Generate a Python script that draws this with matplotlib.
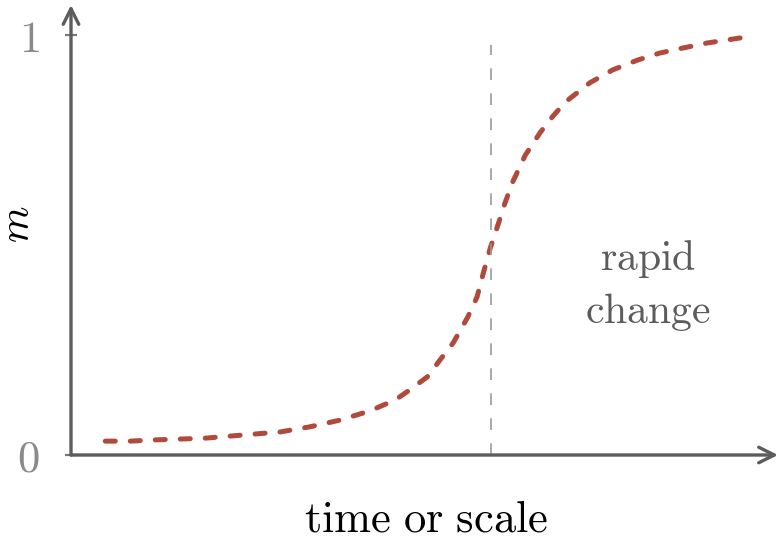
import matplotlib
matplotlib.use("Agg")
import matplotlib.pyplot as plt

plt.rcParams['mathtext.fontset'] = 'cm'

# --- Daten ---
x_vals = [0.49, 0.84, 1.20, 1.56, 1.91, 2.27, 2.63, 2.99, 3.41, 3.84, 4.27, 4.63,
          4.84, 5.09, 5.27, 5.46, 5.67, 5.80, 5.89, 5.99, 6.09, 6.20, 6.31, 6.49,
          6.70, 6.84, 7.06, 7.41, 7.74, 8.09, 8.41, 8.74, 9.09, 9.56]
m_vals = [0.033, 0.033, 0.036, 0.038, 0.040, 0.045, 0.050, 0.055, 0.067, 0.083, 0.105, 0.131,
          0.155, 0.186, 0.226, 0.267, 0.329, 0.376, 0.433, 0.493, 0.543, 0.600, 0.650, 0.714,
          0.767, 0.798, 0.840, 0.886, 0.917, 0.940, 0.957, 0.969, 0.981, 0.993]
x_transition = 6.0
y_ticks = [0, 1]
y_tick_labels = ['$0$', '$1$']

AXIS_COLOR = '#5c5c5c'
CURVE_COLOR = '#b04a3c'

fig = plt.figure(figsize=(7.81, 5.41), dpi=100)
ax = fig.add_axes([71 / 781, 86 / 541, 707 / 781, 450 / 541])

ax.set_xlim(0, 10.1)
ax.set_ylim(0, 450 / 420)

for s in ax.spines.values():
    s.set_visible(False)

# Achsen mit Pfeilen
ax.annotate('', xy=(1.0, 0), xytext=(0, 0), xycoords='axes fraction',
            arrowprops=dict(arrowstyle='->', color=AXIS_COLOR, lw=2.4,
                            mutation_scale=28, shrinkA=0, shrinkB=0))
ax.annotate('', xy=(0, 1.0), xytext=(0, 0), xycoords='axes fraction',
            arrowprops=dict(arrowstyle='->', color=AXIS_COLOR, lw=2.4,
                            mutation_scale=28, shrinkA=0, shrinkB=0))

ax.plot(x_vals, m_vals, color=CURVE_COLOR, lw=3.6, linestyle=(0, (2.0, 3.0)),
        dash_capstyle='round', solid_capstyle='round')
ax.plot([x_transition, x_transition], [0, 0.976], color='#999999', lw=1.2,
        linestyle=(0, (7, 8)))

ax.set_xticks([])
ax.set_yticks(y_ticks)
ax.set_yticklabels(y_tick_labels, fontsize=32, color='#8a8a8a')
ax.tick_params(axis='y', direction='inout', length=9, width=1.6, color='#777777', pad=18)

fig.text(426 / 781, 1 - 531 / 541, r'$\mathrm{time\ or\ scale}$', fontsize=32,
         ha='center', va='baseline')
fig.text(17 / 781, 1 - 224 / 541, r'$m$', fontsize=30, rotation=90,
         ha='center', va='center')

ax.text(8.24, 0.44, r'$\mathrm{rapid}$', fontsize=30, color='#5c5c5c',
        ha='center', va='baseline')
ax.text(8.24, 0.314, r'$\mathrm{change}$', fontsize=30, color='#5c5c5c',
        ha='center', va='baseline')

plt.savefig('out.png', dpi=100)
